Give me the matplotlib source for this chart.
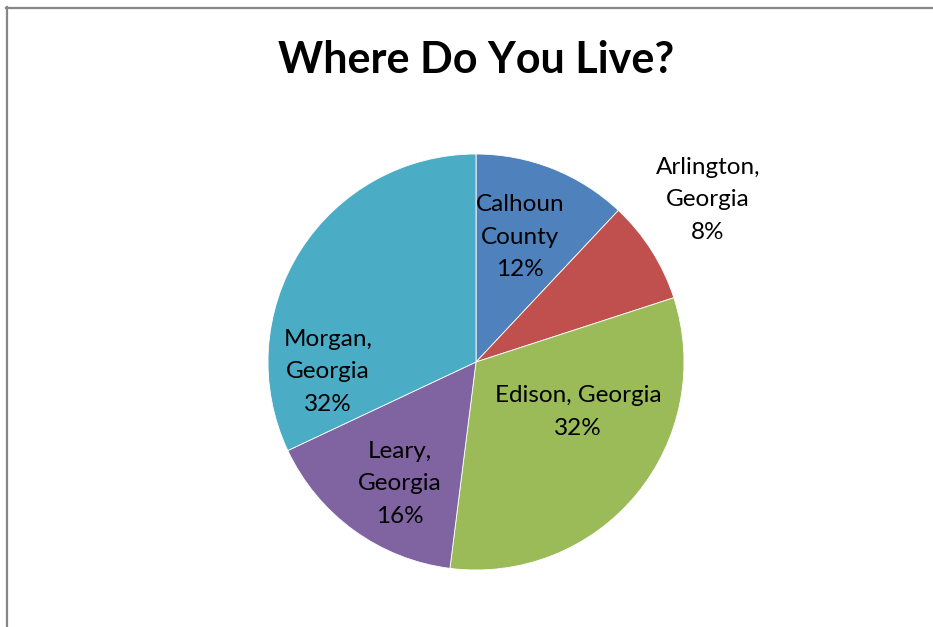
import matplotlib
matplotlib.use("Agg")
import matplotlib.pyplot as plt
from matplotlib.lines import Line2D

# data
places = ["Calhoun\nCounty", "Arlington,\nGeorgia", "Edison, Georgia", "Leary,\nGeorgia", "Morgan,\nGeorgia"]
shares = [12, 8, 32, 16, 32]
colors = ["#4F81BD", "#C0504D", "#9BBB59", "#8064A2", "#4BACC6"]

# label offsets from pie centre, in pixels (x right, y up)
label_offsets = [(44, 125), (232, 162), (102, -50), (-76, -122), (-148, -10)]

W, H = 933, 627
fig = plt.figure(figsize=(W / 100, H / 100), dpi=100)
ax = fig.add_axes([0, 0, 1, 1])

cx, cy, r = 476, H - 362, 208
ax.pie(shares, colors=colors, startangle=90, counterclock=False,
       center=(cx, cy), radius=r, frame=True,
       wedgeprops=dict(edgecolor="white", linewidth=0.6))
ax.set_xlim(0, W)
ax.set_ylim(0, H)
ax.set_aspect("auto")
ax.axis("off")

for name, val, (dx, dy) in zip(places, shares, label_offsets):
    ax.text(cx + dx, cy + dy, f"{name}\n{val}%", ha="center", va="center",
            fontsize=17.5, family="Lato", linespacing=1.68, color="black")

fig.text(476 / W, 1 - 60 / H, "Where Do You Live?", ha="center", va="center",
         fontsize=31, fontweight="bold", family="Lato")

# chart border (cropped at right and bottom)
fig.add_artist(Line2D([6 / W, 1], [1 - 8 / H, 1 - 8 / H], color="#868686", lw=1.6))
fig.add_artist(Line2D([7 / W, 7 / W], [0, 1 - 7 / H], color="#868686", lw=1.6))

fig.savefig("out.png", dpi=100)
